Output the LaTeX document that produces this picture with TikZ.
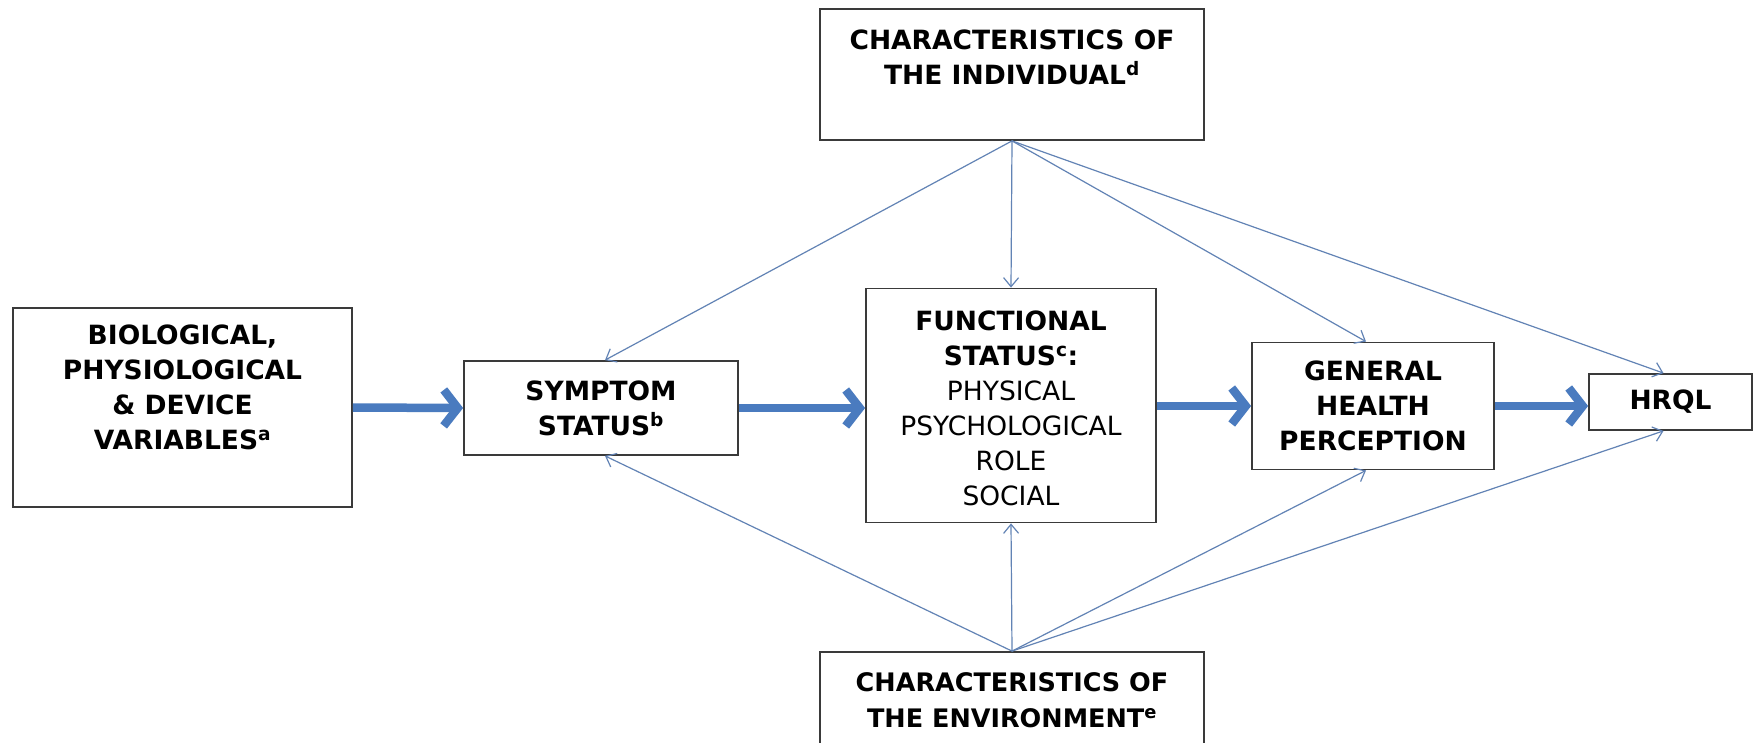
\documentclass[tikz,border=0pt]{standalone}
\usepackage{fontspec}
\setmainfont{DejaVu Sans}
\usetikzlibrary{arrows.meta}
\definecolor{thickblue}{HTML}{4A7BBF}
\definecolor{thinblue}{HTML}{6283B5}
\definecolor{boxgray}{HTML}{3A3A3A}
\tikzset{
  boxnode/.style={draw=boxgray, line width=1.8pt, fill=white, inner sep=0pt},
  txt/.style={align=center, font=\fontsize{26.5}{35}\selectfont\bfseries, inner sep=0pt},
  thick arrow/.style={draw=thickblue, line width=8.5pt, -{Straight Barb[length=14pt, width=36pt]}},
  thin arrow/.style={draw=thinblue, line width=1.2pt, -{Straight Barb[length=9pt, width=15pt]}},
}
\begin{document}
\begin{tikzpicture}[x=1pt, y=-1pt]
\useasboundingbox (0,0) rectangle (1754,742);
\clip (0,0) rectangle (1754,742);
\fill[white] (0,0) rectangle (1754,742);

% boxes
\node[boxnode, minimum width=339pt, minimum height=199pt] (bio) at (182.5,407.5) {};
\node[txt] (biot) at (182.5,387) {BIOLOGICAL,\\PHYSIOLOGICAL\\\& DEVICE\\VARIABLES\textsuperscript{a}};

\node[boxnode, minimum width=274pt, minimum height=94pt, txt] (sym) at (601,408) {SYMPTOM\\STATUS\textsuperscript{b}};

\node[boxnode, minimum width=290pt, minimum height=234pt] (fun) at (1011,405.5) {};
\node[txt] (funt) at (1011,408) {FUNCTIONAL\\STATUS\textsuperscript{c}:\\\mdseries PHYSICAL\\\mdseries PSYCHOLOGICAL\\\mdseries ROLE\\\mdseries SOCIAL};

\node[boxnode, minimum width=242pt, minimum height=127pt, txt] (gen) at (1373,406) {GENERAL\\HEALTH\\PERCEPTION};

\node[boxnode, minimum width=163pt, minimum height=56pt, txt] (hrql) at (1670.5,402) {HRQL};

\node[boxnode, minimum width=384pt, minimum height=131pt] (ind) at (1012,74.5) {};
\node[txt] (indt) at (1012,57) {CHARACTERISTICS OF\\THE INDIVIDUAL\textsuperscript{d}};

\node[boxnode, minimum width=384pt, minimum height=140pt] (env) at (1012,722) {};
\node[txt, font=\fontsize{25.5}{36}\selectfont\bfseries] (envt) at (1012,700) {CHARACTERISTICS OF\\THE ENVIRONMENT\textsuperscript{e}};

% thick arrows
\draw[thick arrow] (bio.east) -- (sym.west);
\draw[thick arrow] (sym.east) -- (sym.east -| fun.west);
\draw[thick arrow] (fun.east |- gen.west) -- (gen.west);
\draw[thick arrow] (gen.east) -- (gen.east -| hrql.west);

% thin arrows from individual
\draw[thin arrow] (ind.south) -- ([xshift=4pt]sym.north);
\draw[thin arrow] (ind.south) -- (fun.north);
\draw[thin arrow] (ind.south) -- ([xshift=-7pt]gen.north);
\draw[thin arrow] (ind.south) -- ([xshift=-7pt]hrql.north);

% thin arrows from environment
\draw[thin arrow] (env.north) -- ([xshift=4pt]sym.south);
\draw[thin arrow] (env.north) -- (fun.south);
\draw[thin arrow] (env.north) -- ([xshift=-7pt]gen.south);
\draw[thin arrow] (env.north) -- ([xshift=-7pt]hrql.south);
\end{tikzpicture}
\end{document}
